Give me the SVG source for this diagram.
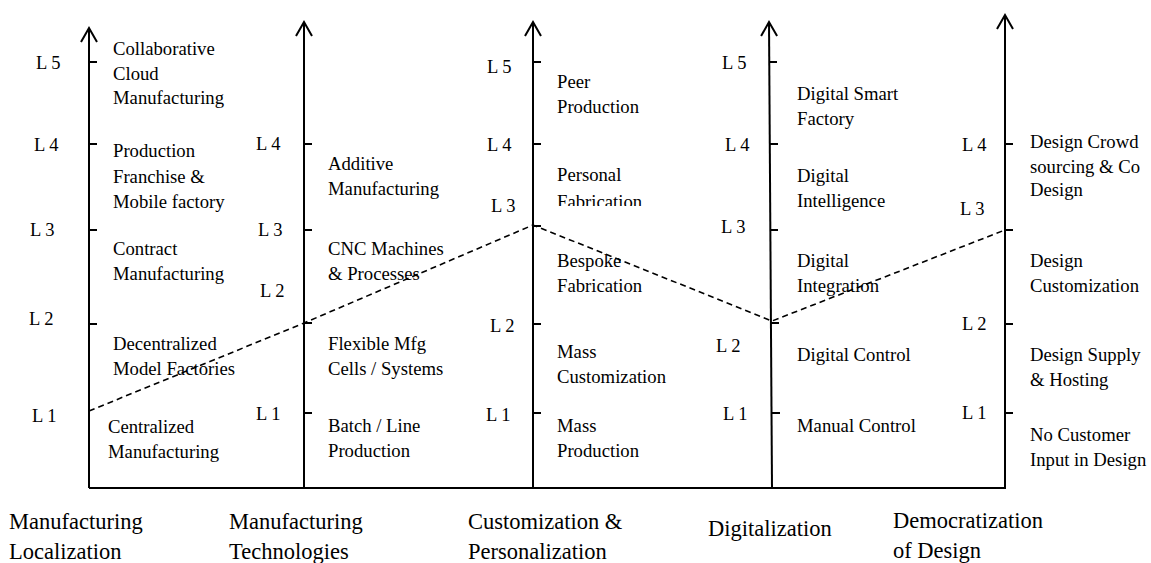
<svg xmlns="http://www.w3.org/2000/svg" width="1151" height="563" viewBox="0 0 1151 563">
<style>
  text { font-family: "Liberation Serif", "Times New Roman", serif; fill: #000; }
  .t { font-size: 18.7px; }
  .lv { font-size: 18.5px; }
  .cat { font-size: 22.5px; }
  .axis { stroke: #000; stroke-width: 2; fill: none; }
  .tick { stroke: #000; stroke-width: 2; }
  .dash { stroke: #000; stroke-width: 1.6; fill: none; stroke-dasharray: 6 4; }
</style>
<defs>
  <marker id="open" markerUnits="userSpaceOnUse" orient="auto" refX="0" refY="0" markerWidth="20" markerHeight="20" style="overflow:visible">
    <path d="M-14,-8 L0,0 L-14,8" fill="none" stroke="#000" stroke-width="2"/>
  </marker>
  <clipPath id="cut"><rect x="540" y="150" width="120" height="56"/></clipPath>
</defs>
<rect width="1151" height="563" fill="#fff"/>

<g id="baseline">
  <line class="axis" x1="89" y1="488" x2="1006" y2="488"/>
</g>

<g id="axis-localization">
  <line class="axis" x1="89" y1="488" x2="89" y2="28" marker-end="url(#open)"/>
  <line class="tick" x1="89" y1="62" x2="97" y2="62"/>
  <line class="tick" x1="89" y1="144" x2="97" y2="144"/>
  <line class="tick" x1="89" y1="230" x2="97" y2="230"/>
  <line class="tick" x1="89" y1="324" x2="97" y2="324"/>
  <text class="lv" x="36" y="69">L 5</text>
  <text class="lv" x="34" y="151">L 4</text>
  <text class="lv" x="30" y="236">L 3</text>
  <text class="lv" x="29" y="325">L 2</text>
  <text class="lv" x="32" y="422">L 1</text>
  <text class="t" x="113" y="55">Collaborative</text>
  <text class="t" x="113" y="80">Cloud</text>
  <text class="t" x="113" y="104">Manufacturing</text>
  <text class="t" x="113" y="157">Production</text>
  <text class="t" x="113" y="183">Franchise &amp;</text>
  <text class="t" x="113" y="208">Mobile factory</text>
  <text class="t" x="113" y="255">Contract</text>
  <text class="t" x="113" y="280">Manufacturing</text>
  <text class="t" x="113" y="350">Decentralized</text>
  <text class="t" x="113" y="375">Model Factories</text>
  <text class="t" x="108" y="433">Centralized</text>
  <text class="t" x="108" y="458">Manufacturing</text>
  <text class="cat" x="9" y="529">Manufacturing</text>
  <text class="cat" x="9" y="559">Localization</text>
</g>

<g id="axis-technologies">
  <line class="axis" x1="304" y1="488" x2="304" y2="22" marker-end="url(#open)"/>
  <line class="tick" x1="304" y1="144" x2="312" y2="144"/>
  <line class="tick" x1="304" y1="230" x2="312" y2="230"/>
  <line class="tick" x1="304" y1="323" x2="312" y2="323"/>
  <line class="tick" x1="304" y1="413" x2="312" y2="413"/>
  <text class="lv" x="256" y="150">L 4</text>
  <text class="lv" x="258" y="236">L 3</text>
  <text class="lv" x="260" y="297">L 2</text>
  <text class="lv" x="256" y="420">L 1</text>
  <text class="t" x="328" y="170">Additive</text>
  <text class="t" x="328" y="195">Manufacturing</text>
  <text class="t" x="328" y="255">CNC Machines</text>
  <text class="t" x="328" y="280">&amp; Processes</text>
  <text class="t" x="328" y="350">Flexible Mfg</text>
  <text class="t" x="328" y="375">Cells / Systems</text>
  <text class="t" x="328" y="432">Batch / Line</text>
  <text class="t" x="328" y="457">Production</text>
  <text class="cat" x="229" y="529">Manufacturing</text>
  <text class="cat" x="229" y="559">Technologies</text>
</g>

<g id="axis-customization">
  <line class="axis" x1="533" y1="488" x2="533" y2="22" marker-end="url(#open)"/>
  <line class="tick" x1="533" y1="62" x2="541" y2="62"/>
  <line class="tick" x1="533" y1="144" x2="541" y2="144"/>
  <line class="tick" x1="533" y1="226" x2="541" y2="226"/>
  <line class="tick" x1="533" y1="324" x2="541" y2="324"/>
  <line class="tick" x1="533" y1="413" x2="541" y2="413"/>
  <text class="lv" x="487" y="73">L 5</text>
  <text class="lv" x="487" y="151">L 4</text>
  <text class="lv" x="491" y="212">L 3</text>
  <text class="lv" x="490" y="332">L 2</text>
  <text class="lv" x="486" y="421">L 1</text>
  <text class="t" x="557" y="88">Peer</text>
  <text class="t" x="557" y="113">Production</text>
  <text class="t" x="557" y="181">Personal</text>
  <text class="t" x="557" y="208" clip-path="url(#cut)">Fabrication</text>
  <text class="t" x="557" y="267">Bespoke</text>
  <text class="t" x="557" y="292">Fabrication</text>
  <text class="t" x="557" y="358">Mass</text>
  <text class="t" x="557" y="383">Customization</text>
  <text class="t" x="557" y="432">Mass</text>
  <text class="t" x="557" y="457">Production</text>
  <text class="cat" x="468" y="529">Customization &amp;</text>
  <text class="cat" x="468" y="559">Personalization</text>
</g>

<g id="axis-digitalization">
  <line class="axis" x1="772" y1="488" x2="769" y2="22" marker-end="url(#open)"/>
  <line class="tick" x1="769" y1="62" x2="777" y2="62"/>
  <line class="tick" x1="770" y1="144" x2="778" y2="144"/>
  <line class="tick" x1="770" y1="230" x2="778" y2="230"/>
  <line class="tick" x1="771" y1="323" x2="779" y2="323"/>
  <line class="tick" x1="772" y1="413" x2="780" y2="413"/>
  <text class="lv" x="722" y="69">L 5</text>
  <text class="lv" x="725" y="151">L 4</text>
  <text class="lv" x="721" y="233">L 3</text>
  <text class="lv" x="716" y="352">L 2</text>
  <text class="lv" x="723" y="420">L 1</text>
  <text class="t" x="797" y="100">Digital Smart</text>
  <text class="t" x="797" y="125">Factory</text>
  <text class="t" x="797" y="182">Digital</text>
  <text class="t" x="797" y="207">Intelligence</text>
  <text class="t" x="797" y="267">Digital</text>
  <text class="t" x="797" y="292">Integration</text>
  <text class="t" x="797" y="361">Digital Control</text>
  <text class="t" x="797" y="432">Manual Control</text>
  <text class="cat" x="708" y="536">Digitalization</text>
</g>

<g id="axis-democratization">
  <line class="axis" x1="1005" y1="488" x2="1005" y2="15" marker-end="url(#open)"/>
  <line class="tick" x1="1005" y1="144" x2="1013" y2="144"/>
  <line class="tick" x1="1005" y1="230" x2="1013" y2="230"/>
  <line class="tick" x1="1005" y1="324" x2="1013" y2="324"/>
  <line class="tick" x1="1005" y1="413" x2="1013" y2="413"/>
  <text class="lv" x="962" y="151">L 4</text>
  <text class="lv" x="960" y="215">L 3</text>
  <text class="lv" x="962" y="330">L 2</text>
  <text class="lv" x="962" y="419">L 1</text>
  <text class="t" x="1030" y="148">Design Crowd</text>
  <text class="t" x="1030" y="173">sourcing &amp; Co</text>
  <text class="t" x="1030" y="196">Design</text>
  <text class="t" x="1030" y="267">Design</text>
  <text class="t" x="1030" y="292">Customization</text>
  <text class="t" x="1030" y="361">Design Supply</text>
  <text class="t" x="1030" y="386">&amp; Hosting</text>
  <text class="t" x="1030" y="441">No Customer</text>
  <text class="t" x="1030" y="466">Input in Design</text>
  <text class="cat" x="893" y="528">Democratization</text>
  <text class="cat" x="893" y="558">of Design</text>
</g>

<g id="connectors">
  <polyline class="dash" points="89,411 304,323 533,225 772,321 1005,230"/>
</g>
</svg>
